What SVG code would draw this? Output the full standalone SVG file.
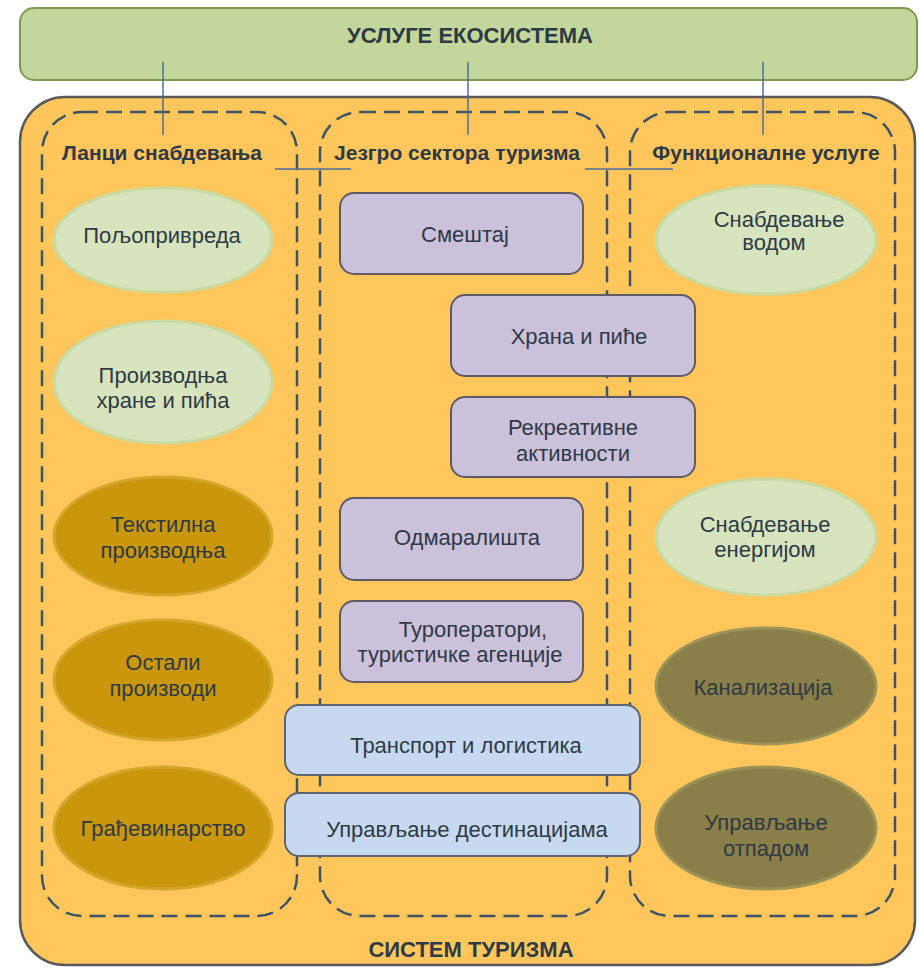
<svg xmlns="http://www.w3.org/2000/svg" width="919" height="970" viewBox="0 0 919 970">
<style>
text{font-family:"Liberation Sans",Arial,sans-serif;fill:#2E3A46;text-anchor:middle}
.hb{font-weight:bold;font-size:21px}
.tb{font-weight:bold;font-size:22px}
.n{font-size:22px}
.dash{fill:none;stroke:#3E5365;stroke-width:2.5;stroke-dasharray:16 8}
.lt{fill:#D7E4BD;stroke:#C8DAA2;stroke-width:3}
.gd{fill:#C9960C;stroke:#D4A62A;stroke-width:3}
.ol{fill:#8A7E49;stroke:#9E9357;stroke-width:3}
.lv{fill:#CCC1DA;stroke:#5F5A68;stroke-width:2}
.bl{fill:#C6D9F1;stroke:#5E6470;stroke-width:2}
.ln{stroke:#4F6D9A;stroke-width:1.5;fill:none}
</style>
<rect width="919" height="970" fill="#FFFFFF"/>
<g id="ecosystem">
<rect x="20" y="8" width="897" height="72" rx="14" fill="#C3D69B" stroke="#7E9A50" stroke-width="2"/>
<text class="tb" x="470" y="43">УСЛУГЕ ЕКОСИСТЕМА</text>
</g>
<g id="tourism-system">
<rect x="20" y="97" width="895" height="868" rx="45" fill="#FFC65C" stroke="#5A5A5A" stroke-width="2.5"/>
<text class="tb" x="471" y="957">СИСТЕМ ТУРИЗМА</text>
</g>
<g id="col-supply">
<rect class="dash" x="42" y="112" width="255" height="804" rx="40"/>
<text class="hb" x="162" y="160">Ланци снабдевања</text>
</g>
<g id="col-core">
<rect class="dash" x="320" y="112" width="287" height="804" rx="40"/>
<text class="hb" x="457" y="160">Језгро сектора туризма</text>
</g>
<g id="col-functional">
<rect class="dash" x="630" y="112" width="265" height="804" rx="40"/>
<text class="hb" x="766" y="160">Функционалне услуге</text>
</g>
<g id="connectors">
<line class="ln" x1="163" y1="62" x2="163" y2="135"/>
<line class="ln" x1="468" y1="62" x2="468" y2="135"/>
<line class="ln" x1="763" y1="62" x2="763" y2="135"/>
<line class="ln" x1="275" y1="169" x2="351" y2="169"/>
<line class="ln" x1="585" y1="169" x2="673" y2="169"/>
</g>
<g id="agri"><ellipse class="lt" cx="163" cy="240" rx="109" ry="52"/><text class="n" x="162" y="243">Пољопривреда</text></g>
<g id="food-prod"><ellipse class="lt" cx="163" cy="382" rx="109" ry="61"/><text class="n" x="163" y="383">Производња</text><text class="n" x="163" y="408">хране и пића</text></g>
<g id="textile"><ellipse class="gd" cx="163" cy="536" rx="109" ry="59"/><text class="n" x="163" y="532">Текстилна</text><text class="n" x="163" y="558">производња</text></g>
<g id="other"><ellipse class="gd" cx="163" cy="680" rx="109" ry="60"/><text class="n" x="163" y="670">Остали</text><text class="n" x="163" y="696">производи</text></g>
<g id="construction"><ellipse class="gd" cx="163" cy="828" rx="109" ry="61"/><text class="n" x="163" y="836">Грађевинарство</text></g>
<g id="water"><ellipse class="lt" cx="766" cy="240" rx="110" ry="54"/><text class="n" x="779" y="227">Снабдевање</text><text class="n" x="774" y="250">водом</text></g>
<g id="energy"><ellipse class="lt" cx="766" cy="537" rx="110" ry="58"/><text class="n" x="765" y="532">Снабдевање</text><text class="n" x="765" y="557">енергијом</text></g>
<g id="sewage"><ellipse class="ol" cx="766" cy="686" rx="110" ry="58"/><text class="n" x="763" y="695">Канализација</text></g>
<g id="waste"><ellipse class="ol" cx="766" cy="828" rx="110" ry="61"/><text class="n" x="766" y="830">Управљање</text><text class="n" x="766" y="856">отпадом</text></g>
<g id="accommodation"><rect class="lv" x="340" y="193" width="243" height="81" rx="14"/><text class="n" x="465" y="242">Смештај</text></g>
<g id="food-drink"><rect class="lv" x="451" y="295" width="244" height="81" rx="14"/><text class="n" x="579" y="344">Храна и пиће</text></g>
<g id="recreation"><rect class="lv" x="451" y="397" width="244" height="80" rx="14"/><text class="n" x="573" y="435">Рекреативне</text><text class="n" x="573" y="461">активности</text></g>
<g id="resorts"><rect class="lv" x="340" y="498" width="243" height="82" rx="14"/><text class="n" x="467" y="545">Одмаралишта</text></g>
<g id="touroperators"><rect class="lv" x="340" y="601" width="243" height="81" rx="14"/><text class="n" x="473" y="637">Туроператори,</text><text class="n" x="460" y="662">туристичке агенције</text></g>
<g id="transport"><rect class="bl" x="285" y="705" width="355" height="70" rx="14"/><text class="n" x="466" y="753">Транспорт и логистика</text></g>
<g id="destination"><rect class="bl" x="285" y="793" width="355" height="63" rx="14"/><text class="n" x="467" y="837">Управљање дестинацијама</text></g>
</svg>
